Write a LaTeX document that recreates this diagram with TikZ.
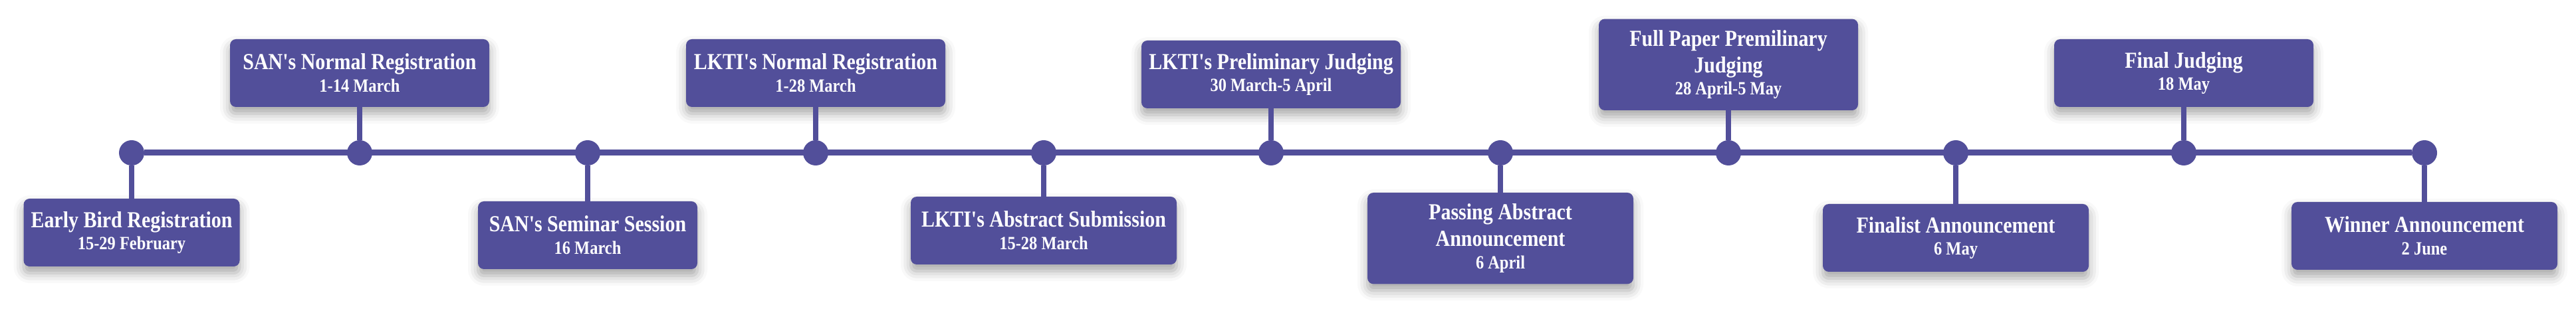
\documentclass[tikz,border=0pt]{standalone}
\usepackage{fontspec}
\usepackage{xcolor}
\usepackage{tikz}
\usetikzlibrary{positioning,shadows.blur}
\newfontfamily\evfont{Liberation Serif}[FakeStretch=0.87]
\definecolor{eventpurple}{RGB}{82,79,154}
\newcommand{\evdate}[1]{{\fontsize{8}{9}\selectfont #1}}

\begin{document}
\begin{tikzpicture}[
  node distance=0.5cm,
  block/.style={rectangle, fill=eventpurple, rounded corners=0.09cm, minimum width=3.9cm, minimum height=1.02cm, inner xsep=0.1cm, inner ysep=0.17cm, outer sep=0pt, align=center, text=white, font=\evfont\bfseries\fontsize{9.8}{11.3}\selectfont, blur shadow={shadow xshift=0cm, shadow yshift=-0.1cm, shadow blur radius=0.15cm, shadow opacity=35}},
  dot/.style={circle, fill=eventpurple, minimum size=0.38cm, inner sep=0pt, outer sep=0pt},
  stem/.style={line width=0.08cm, eventpurple},
  tline/.style={line width=0.09cm, eventpurple}
]
\useasboundingbox (0,0) rectangle (38.75,4.65);

% points on the time line
\node[dot] (d1) at (1.98,2.35) {};
\node[dot] (d2) at (5.41,2.35) {};
\node[dot] (d3) at (8.84,2.35) {};
\node[dot] (d4) at (12.27,2.35) {};
\node[dot] (d5) at (15.70,2.35) {};
\node[dot] (d6) at (19.12,2.35) {};
\node[dot] (d7) at (22.57,2.35) {};
\node[dot] (d8) at (26.00,2.35) {};
\node[dot] (d9) at (29.42,2.35) {};
\node[dot] (d10) at (32.85,2.35) {};
\node[dot] (d11) at (36.47,2.35) {};

% events
\node[block, minimum width=3.25cm, below=of d1] (early) {Early Bird Registration\\[-1.7pt]\evdate{15-29 February}};
\node[block, above=of d2] (sannorm) {SAN's Normal Registration\\[-1.7pt]\evdate{1-14 March}};
\node[block, minimum width=3.3cm, below=0.54cm of d3] (seminar) {SAN's Seminar Session\\[-1.7pt]\evdate{16 March}};
\node[block, above=of d4] (lktinorm) {LKTI's Normal Registration\\[-1.7pt]\evdate{1-28 March}};
\node[block, minimum width=4cm, below=0.47cm of d5] (abstract) {LKTI's Abstract Submission\\[-1.7pt]\evdate{15-28 March}};
\node[block, above=0.48cm of d6] (prelim) {LKTI's Preliminary Judging\\[-1.7pt]\evdate{30 March-5 April}};
\node[block, minimum width=4cm, below=0.41cm of d7] (passing) {Passing Abstract\\Announcement\\[-1.7pt]\evdate{6 April}};
\node[block, above=0.45cm of d8] (fullpaper) {Full Paper Premilinary\\Judging\\[-1.7pt]\evdate{28 April-5 May}};
\node[block, minimum width=4cm, below=0.58cm of d9] (finalist) {Finalist Announcement\\[-1.7pt]\evdate{6 May}};
\node[block, above=of d10] (final) {Final Judging\\[-1.7pt]\evdate{18 May}};
\node[block, minimum width=4cm, below=0.55cm of d11] (winner) {Winner Announcement\\[-1.7pt]\evdate{2 June}};

\draw[tline] (d1) -- (d11);
\draw[stem] (d1) -- (early);
\draw[stem] (d2) -- (sannorm);
\draw[stem] (d3) -- (seminar);
\draw[stem] (d4) -- (lktinorm);
\draw[stem] (d5) -- (abstract);
\draw[stem] (d6) -- (prelim);
\draw[stem] (d7) -- (passing);
\draw[stem] (d8) -- (fullpaper);
\draw[stem] (d9) -- (finalist);
\draw[stem] (d10) -- (final);
\draw[stem] (d11) -- (winner);
\end{tikzpicture}
\end{document}
